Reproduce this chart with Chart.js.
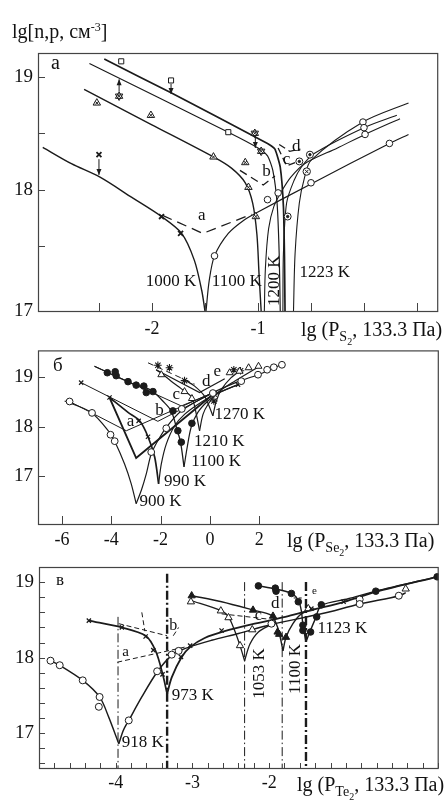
<!DOCTYPE html>
<html>
<head>
<meta charset="utf-8">
<title>lg n,p vs lg P</title>
<script src="https://cdn.jsdelivr.net/npm/chart.js@4.4.1/dist/chart.umd.min.js"></script>
<style>
  body { margin: 0; background: #fff; font-family: "Liberation Serif", "Times New Roman", serif; color: #111; }
  #page { position: relative; width: 444px; height: 801px; overflow: hidden; }
  .panel { position: absolute; left: 0; width: 444px; }
  .txt { position: absolute; white-space: nowrap; font-size: 20px; line-height: 1; }
  .txt sup { font-size: 12px; vertical-align: 7px; }
  .txt .s1 { font-size: 14px; position: relative; top: 5px; }
  .txt .s2 { font-size: 10px; position: relative; top: 9px; }
</style>
</head>
<body>
<div id="page">
  <div class="panel" style="top:0;height:340px"><canvas id="chartA" width="444" height="340"></canvas></div>
  <div class="panel" style="top:334px;height:218px"><canvas id="chartB" width="444" height="218"></canvas></div>
  <div class="panel" style="top:548px;height:253px"><canvas id="chartC" width="444" height="253"></canvas></div>

  <div class="txt" style="left:12px;top:21px">lg[n,p, см<sup>-3</sup>]</div>
  <div class="txt" style="left:51px;top:52px;font-size:20px">а</div>
  <div class="txt" style="left:53px;top:355px;font-size:19px">б</div>
  <div class="txt" style="left:56px;top:571px;font-size:17px">в</div>
  <div class="txt" style="left:301px;top:319px">lg (P<span class="s1">S</span><span class="s2">2</span>, 133.3 Па)</div>
  <div class="txt" style="left:287px;top:530px">lg (P<span class="s1">Se</span><span class="s2">2</span>, 133.3 Па)</div>
  <div class="txt" style="left:297px;top:774px">lg (P<span class="s1">Te</span><span class="s2">2</span>, 133.3 Па)</div>
</div>

<script>
// ---------- panel a : S2 ----------
const aXTicks = [-2.5, -2, -1.5, -1, -0.5, 0, 0.5];
const aXLabels = [-2, -1];
const aYTicks = [17.5, 18, 18.5, 19];
const aYLabels = [16.92, 18, 19];   // bottom corner is labelled 17

const a1000LeftX = [-3.03, -2.76, -2.49, -2.19, -1.91, -1.72, -1.60, -1.53, -1.50];
const a1000LeftY = [18.375, 18.23, 18.11, 17.93, 17.76, 17.61, 17.37, 17.10, 16.92];
const a1000RightX = [-1.49, -1.46, -1.41, -1.28, -1.13, -1.0, -0.5, 0.24, 0.42];
const a1000RightY = [16.92, 17.19, 17.41, 17.61, 17.73, 17.80, 18.05, 18.41, 18.49];
const a1100LeftX = [-2.64, -2.01, -1.42, -1.25, -1.12, -1.05, -1.01, -0.99, -0.97];
const a1100LeftY = [18.89, 18.58, 18.29, 18.19, 18.06, 17.88, 17.6, 17.25, 16.92];
const a1100RightX = [-0.94, -0.93, -0.90, -0.85, -0.78, -0.69, -0.56, -0.25, 0.01, 0.34];
const a1100RightY = [16.92, 17.3, 17.65, 17.85, 17.98, 18.11, 18.23, 18.37, 18.49, 18.63];
const a1200LeftX = [-2.59, -1.28, -1.0, -0.91, -0.86, -0.82, -0.80, -0.79];
const a1200LeftY = [19.12, 18.51, 18.37, 18.30, 18.17, 17.88, 17.43, 16.92];
const a1200RightX = [-0.765, -0.76, -0.73, -0.66, -0.59, -0.47, 0.0, 0.31];
const a1200RightY = [16.92, 17.43, 17.88, 18.08, 18.20, 18.32, 18.55, 18.66];
const a1223LeftX = [-2.45, -1.82, -0.91, -0.84, -0.79, -0.76, -0.75, -0.745];
const a1223LeftY = [19.16, 18.86, 18.41, 18.36, 18.2, 17.85, 17.4, 16.92];
const a1223RightX = [-0.665, -0.65, -0.61, -0.56, -0.50, -0.01, 0.42];
const a1223RightY = [16.92, 17.43, 17.88, 18.11, 18.26, 18.60, 18.77];

const aDashAX = [-1.90, -1.52, -1.06], aDashAY = [17.77, 17.61, 17.78];
const aDashBX = [-1.17, -0.95, -0.84], aDashBY = [18.17, 18.04, 18.12];
const aDashCX = [-0.81, -0.73, -0.65], aDashCY = [18.37, 18.21, 18.24];
const aDashDX = [-0.80, -0.70, -0.60], aDashDY = [18.40, 18.34, 18.36];

const aCrossX = [-2.50, -1.91, -1.73], aCrossY = [18.31, 17.76, 17.61];
const aCircX = [-1.41, -0.91, -0.81, -0.50, -0.01, 0.0, 0.01, 0.24];
const aCircY = [17.41, 17.91, 17.97, 18.06, 18.60, 18.55, 18.49, 18.41];
const aTriX = [-2.52, -2.01, -1.42, -1.12, -1.09, -1.02], aTriY = [18.77, 18.66, 18.29, 18.24, 18.02, 17.76];
const aHexX = [-2.31, -1.03, -0.97], aHexY = [18.83, 18.50, 18.34];
const aSqX = [-2.29, -1.82, -1.28], aSqY = [19.14, 18.97, 18.51];
const aDotX = [-0.72, -0.61, -0.51], aDotY = [17.76, 18.25, 18.31];
const aOxX = [-0.54], aOxY = [18.16];

// ---------- panel б : Se2 ----------
const bXLabels = [-6, -4, -2, 0, 2];
const bYLabels = [17, 18, 19];

const b900LeftX = [-5.89, -4.81, -4.07, -3.86, -3.46, -3.19, -2.99];
const b900LeftY = [18.52, 18.29, 17.89, 17.71, 17.25, 16.85, 16.45];
const b900RightX = [-2.99, -2.78, -2.58, -2.38, -2.11, -1.77, -1.16, 0.05, 1.14, 1.95, 2.89];
const b900RightY = [16.45, 16.72, 17.05, 17.45, 17.72, 17.99, 18.32, 18.67, 18.91, 19.05, 19.25];
const b990LeftX = [-4.07, -3.32, -2.85, -2.51, -2.24, -2.08];
const b990LeftY = [18.59, 18.29, 18.12, 17.80, 17.39, 16.85];
const b990RightX = [-2.08, -1.97, -1.77, -1.43, -1.03, -0.49, 0.19, 1.14];
const b990RightY = [16.85, 17.25, 17.65, 18.02, 18.25, 18.45, 18.65, 18.85];
const b1100LeftX = [-4.68, -4.20, -3.84, -3.32, -2.99, -2.65, -2.31, -1.91, -1.57, -1.32, -1.19, -1.05];
const b1100LeftY = [19.22, 19.11, 19.02, 18.91, 18.84, 18.80, 18.71, 18.52, 18.32, 17.92, 17.69, 17.19];
const b1100RightX = [-1.05, -0.92, -0.76, -0.49, -0.08, 0.39, 1.14];
const b1100RightY = [17.19, 17.59, 17.99, 18.29, 18.52, 18.69, 18.85];
const b1210LeftX = [-2.18, -1.95, -1.57, -1.03, -0.73, -0.55, -0.42];
const b1210LeftY = [19.15, 19.07, 18.92, 18.72, 18.59, 18.25, 17.92];
const b1210RightX = [-0.42, -0.28, -0.08, 0.32, 1.0, 2.01];
const b1210RightY = [17.92, 18.25, 18.45, 18.69, 18.92, 19.22];
const b1270LeftX = [-1.03, -0.62, -0.22, -0.01, 0.12];
const b1270LeftY = [18.95, 18.82, 18.62, 18.39, 18.22];
const b1270RightX = [0.12, 0.26, 0.46, 0.86, 1.27];
const b1270RightY = [18.22, 18.52, 18.75, 18.99, 19.15];

const bVaX = [-5.69, -3.39, 0.05], bVaY = [18.51, 17.92, 18.67];
const bVboldX = [-4.07, -2.99, 0.12], bVboldY = [18.59, 17.37, 18.65];
const bVbX = [-5.22, -2.11, 0.2], bVbY = [18.89, 18.11, 18.70];
const bVcX = [-4.68, -1.16, 0.3], bVcY = [19.22, 18.42, 18.72];
const bVdX = [-2.18, -0.42, 0.6], bVdY = [19.15, 18.69, 18.97];
const bDashEX = [-2.51, -0.62], bDashEY = [19.29, 18.86];

const bCircX = [-5.69, -4.78, -4.03, -3.86, -2.38, -1.77, -1.14, 0.12, 1.27, 1.95, 2.32, 2.59, 2.92];
const bCircY = [18.51, 18.28, 17.84, 17.71, 17.49, 17.97, 18.36, 18.68, 18.92, 19.05, 19.15, 19.20, 19.25];
const bCrossX = [-5.22, -4.07, -2.89, -2.51, 0.19, 1.14], bCrossY = [18.89, 18.59, 18.12, 17.80, 18.65, 18.85];
const bDotX = [-4.16, -3.84, -3.80, -3.32, -2.99, -2.68, -2.58, -2.31, -1.50, -1.30, -1.16, -0.73];
const bDotY = [19.09, 19.11, 19.03, 18.91, 18.84, 18.82, 18.69, 18.71, 18.32, 17.92, 17.69, 18.07];
const bTriX = [-1.97, -1.03, -0.73, 0.80, 1.20, 1.57, 1.97], bTriY = [19.05, 18.71, 18.57, 19.09, 19.12, 19.19, 19.22];
const bStarX = [-2.11, -1.64, -1.03, 0.16, 0.97, 1.24], bStarY = [19.24, 19.19, 18.93, 18.52, 19.15, 19.13];

// ---------- panel в : Te2 ----------
const cXLabels = [-4, -3, -2];
const cYLabels = [17, 18, 19];

const c918LeftX = [-4.85, -4.73, -4.43, -4.21, -4.09, -3.96];
const c918LeftY = [17.96, 17.90, 17.70, 17.48, 17.21, 16.86];
const c918RightX = [-3.96, -3.90, -3.83, -3.66, -3.46, -3.27, -3.10, -2.75, -2.40, -1.97, -1.32, -0.82, -0.30, -0.22];
const c918RightY = [16.86, 17.04, 17.17, 17.48, 17.81, 18.03, 18.12, 18.23, 18.32, 18.44, 18.58, 18.71, 18.82, 18.86];
const c973LeftX = [-4.35, -3.92, -3.61, -3.48, -3.39, -3.33];
const c973LeftY = [18.49, 18.40, 18.29, 18.09, 17.79, 17.52];
const c973RightX = [-3.33, -3.27, -3.14, -3.03, -2.84, -2.58, -2.19, -1.75, -1.45, -1.02, -0.61, 0.19];
const c973RightY = [17.52, 17.74, 18.01, 18.14, 18.26, 18.35, 18.45, 18.55, 18.63, 18.74, 18.87, 19.07];
const c1053LeftX = [-3.03, -2.62, -2.53, -2.45, -2.38, -2.32];
const c1053LeftY = [18.76, 18.62, 18.54, 18.36, 18.16, 17.96];
const c1053RightX = [-2.32, -2.25, -2.14, -1.97];
const c1053RightY = [17.96, 18.18, 18.34, 18.44];
const c1100LeftX = [-3.01, -2.62, -2.21, -1.97, -1.90, -1.86, -1.82];
const c1100LeftY = [18.82, 18.74, 18.63, 18.56, 18.43, 18.29, 18.09];
const c1100RightX = [-1.82, -1.78, -1.69, -1.58, -1.41];
const c1100RightY = [18.09, 18.27, 18.45, 18.58, 18.65];
const c1123LeftX = [-2.14, -1.92, -1.71, -1.62, -1.58, -1.56, -1.52];
const c1123LeftY = [18.95, 18.91, 18.85, 18.76, 18.62, 18.43, 18.21];
const c1123RightX = [-1.52, -1.47, -1.40, -1.32, -0.97, -0.61, 0.19];
const c1123RightY = [18.21, 18.34, 18.51, 18.69, 18.78, 18.88, 19.07];

const cVertX = [-3.97, -3.33, -2.32, -1.83, -1.52];
const cVertTop = [18.54, 19.11, 19.0, 19.0, 19.0];
const cVertBold = [false, true, false, false, true];

const cDashAX = [-3.98, -3.10], cDashAY = [17.94, 18.14];
const cDashBX = [-3.96, -3.33], cDashBY = [18.45, 18.29];
const cDashB2X = [-3.66, -3.62], cDashB2Y = [18.60, 18.35];
const cDashB3X = [-3.25, -3.18], cDashB3Y = [18.29, 18.40];
const cDashCX = [-2.62, -2.01], cDashCY = [18.58, 18.51];
const cDashEX = [-1.68, -1.57], cDashEY = [18.79, 18.79];

const cCircX = [-4.85, -4.73, -4.43, -4.21, -4.22, -3.83, -3.46, -3.27, -3.18, -1.97, -0.82, -0.82, -0.31];
const cCircY = [17.96, 17.90, 17.70, 17.48, 17.35, 17.17, 17.82, 18.04, 18.09, 18.45, 18.77, 18.71, 18.82];
const cCrossX = [-4.35, -3.92, -3.61, -3.51, -3.39, -3.15, -3.03, -2.62, -1.45, -1.03];
const cCrossY = [18.49, 18.40, 18.28, 18.10, 17.78, 18.01, 18.16, 18.36, 18.65, 18.74];
const cTriX = [-3.02, -2.63, -2.53, -2.38, -2.22, -1.49, -0.22], cTriY = [18.74, 18.62, 18.53, 18.16, 18.37, 18.65, 18.91];
const cTriFX = [-3.01, -2.21, -1.95, -1.89, -1.87, -1.78], cTriFY = [18.82, 18.63, 18.55, 18.34, 18.31, 18.27];
const cDotX = [-2.14, -1.92, -1.91, -1.71, -1.62, -1.56, -1.56, -1.46, -1.38, -1.32, -0.61, 0.19];
const cDotY = [18.95, 18.92, 18.88, 18.85, 18.74, 18.43, 18.36, 18.34, 18.54, 18.70, 18.88, 19.07];

const FONT = '"Liberation Serif", "Times New Roman", serif';
const INK = '#1b1b1b';

function pts(xs, ys) { return xs.map((x, i) => ({ x: x, y: ys[i] })); }

function line(xs, ys, w, tension) {
  return { data: pts(xs, ys), showLine: true, pointRadius: 0, borderColor: INK,
    borderWidth: w || 1.2, tension: tension === undefined ? 0.3 : tension, order: 3 };
}

function dash(xs, ys, w, pattern) {
  return { data: pts(xs, ys), showLine: true, pointRadius: 0, borderColor: INK,
    borderWidth: w || 1, borderDash: pattern || [7, 4], tension: 0, order: 3 };
}

function mark(xs, ys, style, opt) {
  opt = opt || {};
  let bg = '#fff';
  if (opt.fill) bg = INK;
  if (opt.hollow) bg = 'rgba(0,0,0,0)';
  return { data: pts(xs, ys), showLine: false, pointStyle: style, pointRadius: opt.r || 3.2,
    pointBorderWidth: opt.bw || 1, pointBorderColor: INK, pointBackgroundColor: bg,
    pointRotation: opt.rot || 0, order: opt.top ? 1 : 2 };
}

// inward ticks, frame, arrows and in-plot labels
const deco = {
  id: 'deco',
  afterDatasetsDraw(chart, args, o) {
    const ctx = chart.ctx, xs = chart.scales.x, ys = chart.scales.y, a = chart.chartArea;
    ctx.save();
    ctx.strokeStyle = '#444';
    ctx.lineWidth = 1.2;
    ctx.strokeRect(a.left + 0.5, a.top + 0.5, a.right - a.left - 1, a.bottom - a.top);
    ctx.lineWidth = 1;
    ctx.beginPath();
    o.xTicks.forEach(v => {
      const p = Math.round(xs.getPixelForValue(v)) + 0.5;
      ctx.moveTo(p, a.bottom); ctx.lineTo(p, a.bottom - o.xLen);
    });
    o.yTicks.forEach(v => {
      const p = Math.round(ys.getPixelForValue(v)) + 0.5;
      ctx.moveTo(a.left, p); ctx.lineTo(a.left + o.yLen, p);
    });
    ctx.stroke();

    ctx.strokeStyle = INK;
    ctx.fillStyle = INK;
    (o.arrows || []).forEach(ar => {
      const x = xs.getPixelForValue(ar.x), y1 = ys.getPixelForValue(ar.y1), y2 = ys.getPixelForValue(ar.y2);
      const d = y2 > y1 ? 1 : -1;
      ctx.beginPath(); ctx.moveTo(x, y1); ctx.lineTo(x, y2); ctx.stroke();
      ctx.beginPath(); ctx.moveTo(x, y2); ctx.lineTo(x - 2.5, y2 - d * 6); ctx.lineTo(x + 2.5, y2 - d * 6); ctx.closePath(); ctx.fill();
    });

    ctx.fillStyle = '#111';
    (o.labels || []).forEach(l => {
      ctx.save();
      ctx.translate(xs.getPixelForValue(l.x), ys.getPixelForValue(l.y));
      if (l.rot) ctx.rotate(l.rot * Math.PI / 180);
      ctx.font = (l.size || 17) + 'px ' + FONT;
      ctx.textAlign = l.align || 'center';
      ctx.textBaseline = 'middle';
      ctx.fillText(l.t, 0, 0);
      ctx.restore();
    });
    ctx.restore();
  }
};

function panel(id, sets, c) {
  return new Chart(document.getElementById(id), {
    type: 'scatter',
    data: { datasets: sets },
    options: {
      responsive: false,
      animation: false,
      events: [],
      layout: { padding: c.pad },
      plugins: { legend: { display: false }, tooltip: { enabled: false }, deco: c.deco },
      scales: {
        x: {
          type: 'linear', min: c.xMin, max: c.xMax,
          grid: { display: false, drawTicks: false }, border: { display: false },
          afterFit: s => { s.height = c.xH; },
          afterBuildTicks: s => { s.ticks = c.xLabels.map(v => ({ value: v })); },
          ticks: { padding: c.xPad, color: '#111', font: { family: FONT, size: 18 },
            maxRotation: 0, autoSkip: false, callback: v => String(v) }
        },
        y: {
          type: 'linear', min: c.yMin, max: c.yMax,
          grid: { display: false, drawTicks: false }, border: { display: false },
          afterFit: s => { s.width = c.yW; },
          afterBuildTicks: s => { s.ticks = c.yLabels.map(v => ({ value: v })); },
          ticks: { padding: 5, color: '#111', font: { family: FONT, size: 19 },
            autoSkip: false, callback: c.yFmt || (v => String(v)) }
        }
      }
    },
    plugins: [deco]
  });
}

// ---- chart a ----
panel('chartA', [
  line(a1000LeftX, a1000LeftY, 1.4),
  line(a1000RightX, a1000RightY, 1.2),
  line(a1100LeftX, a1100LeftY, 1.4),
  line(a1100RightX, a1100RightY, 1.1),
  line(a1200LeftX, a1200LeftY, 1.2, 0.2),
  line(a1200RightX, a1200RightY, 1.1),
  line(a1223LeftX, a1223LeftY, 1.7, 0.15),
  line(a1223RightX, a1223RightY, 1.1),
  dash(aDashAX, aDashAY, 1.3, [10, 6]),
  dash(aDashBX, aDashBY, 1.3, [8, 5]),
  dash(aDashCX, aDashCY, 1.3, [7, 4]),
  dash(aDashDX, aDashDY, 1.3, [7, 4]),
  mark(aCrossX, aCrossY, 'crossRot', { r: 3.5, bw: 1.8 }),
  mark(aCircX, aCircY, 'circle', { r: 3.3 }),
  mark(aTriX, aTriY, 'triangle', { r: 4.3 }),
  mark(aTriX, aTriY, 'crossRot', { r: 2.2, top: true }),
  mark(aHexX, aHexY, 'triangle', { r: 4.3 }),
  mark(aHexX, aHexY, 'triangle', { r: 4.3, rot: 180, hollow: true, top: true }),
  mark(aHexX, aHexY, 'crossRot', { r: 2, top: true }),
  mark(aSqX, aSqY, 'rect', { r: 3.6 }),
  mark(aDotX, aDotY, 'circle', { r: 3.5 }),
  mark(aDotX, aDotY, 'circle', { r: 1.2, fill: true, top: true }),
  mark(aOxX, aOxY, 'circle', { r: 3.7 }),
  mark(aOxX, aOxY, 'crossRot', { r: 2.6, top: true })
], {
  pad: { top: 53, right: 5, left: 0, bottom: 0 },
  xMin: -3.075, xMax: 0.70, yMin: 16.92, yMax: 19.214,
  xH: 29, yW: 38, xPad: 7,
  xLabels: aXLabels, yLabels: aYLabels,
  yFmt: v => (v < 17 ? '17' : String(v)),
  deco: {
    xTicks: aXTicks, yTicks: aYTicks, xLen: 8, yLen: 7,
    arrows: [
      { x: -2.50, y1: 18.27, y2: 18.13 },
      { x: -1.82, y1: 18.94, y2: 18.85 },
      { x: -2.31, y1: 18.87, y2: 18.98 },
      { x: -1.025, y1: 18.46, y2: 18.37 }
    ],
    labels: [
      { t: '1000 K', x: -1.82, y: 17.18 },
      { t: '1100 K', x: -1.20, y: 17.18 },
      { t: '1200 K', x: -0.845, y: 17.19, rot: -90 },
      { t: '1223 K', x: -0.37, y: 17.26 },
      { t: 'a', x: -1.53, y: 17.77 },
      { t: 'b', x: -0.92, y: 18.16 },
      { t: 'c', x: -0.73, y: 18.27 },
      { t: 'd', x: -0.64, y: 18.38 }
    ]
  }
});

// ---- chart б ----
panel('chartB', [
  line(b900LeftX, b900LeftY, 1.2),
  line(b900RightX, b900RightY, 1.2),
  line(b990LeftX, b990LeftY, 1.7),
  line(b990RightX, b990RightY, 1.2),
  line(b1100LeftX, b1100LeftY, 1.3),
  line(b1100RightX, b1100RightY, 1.2),
  line(b1210LeftX, b1210LeftY, 1.2),
  line(b1210RightX, b1210RightY, 1.2),
  line(b1270LeftX, b1270LeftY, 1.2),
  line(b1270RightX, b1270RightY, 1.2),
  line(bVaX, bVaY, 1, 0),
  line(bVboldX, bVboldY, 1.9, 0),
  line(bVbX, bVbY, 1, 0),
  line(bVcX, bVcY, 1, 0),
  line(bVdX, bVdY, 1.2, 0),
  dash(bDashEX, bDashEY, 1, [6, 4]),
  mark(bCircX, bCircY, 'circle', { r: 3.4 }),
  mark(bCrossX, bCrossY, 'crossRot', { r: 3, bw: 1.2 }),
  mark(bDotX, bDotY, 'circle', { r: 3.3, fill: true }),
  mark(bTriX, bTriY, 'triangle', { r: 4 }),
  mark(bStarX, bStarY, 'star', { r: 3.8, bw: 1.1 })
], {
  pad: { top: 15, right: 5, left: 0, bottom: 0 },
  xMin: -6.97, xMax: 9.28, yMin: 16.04, yMax: 19.54,
  xH: 28, yW: 38, xPad: 5,
  xLabels: bXLabels, yLabels: bYLabels,
  deco: {
    xTicks: bXLabels, yTicks: bYLabels, xLen: 8, yLen: 7,
    labels: [
      { t: '1270 K', x: 0.19, y: 18.25, align: 'left' },
      { t: '1210 K', x: -0.65, y: 17.71, align: 'left' },
      { t: '1100 K', x: -0.76, y: 17.29, align: 'left' },
      { t: '990 K', x: -1.86, y: 16.89, align: 'left' },
      { t: '900 K', x: -2.85, y: 16.49, align: 'left' },
      { t: 'a', x: -3.22, y: 18.11 },
      { t: 'b', x: -2.04, y: 18.32 },
      { t: 'c', x: -1.36, y: 18.65 },
      { t: 'd', x: -0.15, y: 18.92 },
      { t: 'e', x: 0.30, y: 19.12 }
    ]
  }
});

// ---- chart в ----
const cXMinor = [], cYMinor = [];
for (let i = 0; i <= 26; i++) cXMinor.push(-5 + i * 0.2);
for (let i = 0; i <= 13; i++) cYMinor.push(16.6 + i * 0.2);

const cVertSets = cVertX.map((x, i) =>
  dash([x, x], [cVertTop[i], 16.4], cVertBold[i] ? 2.4 : 1, cVertBold[i] ? [9, 3, 2, 3] : [9, 3, 1.5, 3]));

panel('chartC', cVertSets.concat([
  line(c918LeftX, c918LeftY, 1.4),
  line(c918RightX, c918RightY, 1.5),
  line(c973LeftX, c973LeftY, 1.7),
  line(c973RightX, c973RightY, 1.8),
  line(c1053LeftX, c1053LeftY, 1.3),
  line(c1053RightX, c1053RightY, 1.3),
  line(c1100LeftX, c1100LeftY, 1.4),
  line(c1100RightX, c1100RightY, 1.4),
  line(c1123LeftX, c1123LeftY, 1.4),
  line(c1123RightX, c1123RightY, 1.4),
  dash(cDashAX, cDashAY, 1, [5, 3]),
  dash(cDashBX, cDashBY, 1, [5, 3]),
  dash(cDashB2X, cDashB2Y, 1, [5, 3]),
  dash(cDashB3X, cDashB3Y, 1, [5, 3]),
  dash(cDashCX, cDashCY, 1, [5, 3]),
  dash(cDashEX, cDashEY, 1, [3, 2]),
  mark(cCircX, cCircY, 'circle', { r: 3.5 }),
  mark(cCrossX, cCrossY, 'crossRot', { r: 3, bw: 1.3 }),
  mark(cTriX, cTriY, 'triangle', { r: 4.2 }),
  mark(cTriFX, cTriFY, 'triangle', { r: 4.2, fill: true }),
  mark(cDotX, cDotY, 'circle', { r: 3.3, fill: true })
]), {
  pad: { top: 19, right: 4, left: 0, bottom: 0 },
  xMin: -5.0, xMax: 0.21, yMin: 16.54, yMax: 19.2,
  xH: 33, yW: 39, xPad: 4,
  xLabels: cXLabels, yLabels: cYLabels,
  deco: {
    xTicks: cXMinor, yTicks: cYMinor, xLen: 5, yLen: 6,
    labels: [
      { t: '918 K', x: -3.92, y: 16.88, align: 'left' },
      { t: '973 K', x: -3.27, y: 17.50, align: 'left' },
      { t: '1053 K', x: -2.12, y: 17.79, rot: -90 },
      { t: '1100 K', x: -1.65, y: 17.85, rot: -90 },
      { t: '1123 K', x: -1.37, y: 18.38, align: 'left' },
      { t: 'a', x: -3.87, y: 18.07, size: 15 },
      { t: 'b', x: -3.25, y: 18.42, size: 16 },
      { t: 'c', x: -2.14, y: 18.55, size: 16 },
      { t: 'd', x: -1.92, y: 18.71, size: 17 },
      { t: 'e', x: -1.41, y: 18.88, size: 11 }
    ]
  }
});
</script>
</body>
</html>
